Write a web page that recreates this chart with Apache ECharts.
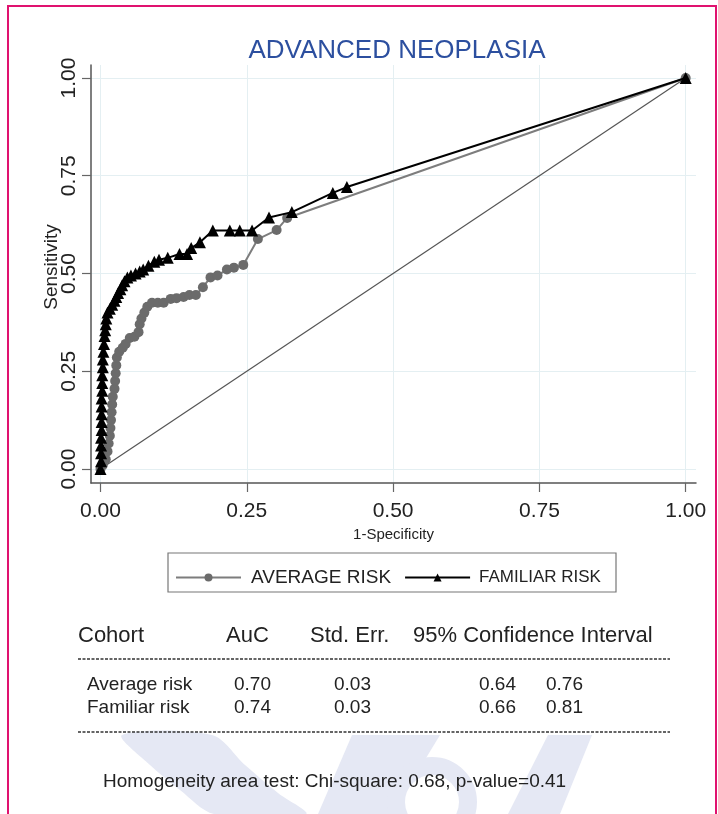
<!DOCTYPE html>
<html>
<head>
<meta charset="utf-8">
<script src="https://cdn.jsdelivr.net/npm/echarts@6/dist/echarts.min.js"></script>
<style>
  html, body { margin: 0; padding: 0; background: #fff; }
  #chart { width: 718px; height: 814px; }
</style>
</head>
<body>
<div id="chart"></div>
<script>
// ROC curves
const tickValues = [0, 0.25, 0.5, 0.75, 1];

const avgX = [0, 0.004, 0.009, 0.012, 0.014, 0.016, 0.017, 0.018, 0.019, 0.020,
  0.021, 0.024, 0.025, 0.026, 0.027, 0.028, 0.032, 0.038, 0.043, 0.050,
  0.058, 0.065, 0.067, 0.070, 0.075, 0.080, 0.088, 0.098, 0.108, 0.120,
  0.130, 0.142, 0.152, 0.163, 0.175, 0.188, 0.200, 0.216, 0.228, 0.244,
  0.269, 0.301, 0.319, 1.0];
const avgY = [0, 0.010, 0.025, 0.045, 0.065, 0.085, 0.105, 0.125, 0.145, 0.165,
  0.185, 0.205, 0.225, 0.245, 0.265, 0.285, 0.300, 0.310, 0.320, 0.335,
  0.338, 0.350, 0.370, 0.385, 0.400, 0.415, 0.425, 0.425, 0.425, 0.435,
  0.437, 0.440, 0.445, 0.445, 0.465, 0.490, 0.495, 0.510, 0.515, 0.522,
  0.588, 0.611, 0.642, 1.0];

const famX = [0, 0.001, 0.001, 0.001, 0.001, 0.002, 0.002, 0.002, 0.002, 0.002,
  0.003, 0.003, 0.003, 0.004, 0.004, 0.005, 0.006, 0.007, 0.008, 0.009,
  0.010, 0.012, 0.016, 0.020, 0.024, 0.027, 0.030, 0.034, 0.037, 0.041,
  0.046, 0.052, 0.060, 0.067, 0.073, 0.082, 0.092, 0.100, 0.115, 0.135,
  0.148, 0.155, 0.170, 0.192, 0.221, 0.238, 0.259, 0.288, 0.327, 0.397,
  0.421, 1.0];
const famY = [0, 0.02, 0.04, 0.06, 0.08, 0.10, 0.12, 0.14, 0.16, 0.18,
  0.20, 0.22, 0.24, 0.26, 0.28, 0.30, 0.32, 0.34, 0.355, 0.37,
  0.385, 0.40, 0.41, 0.42, 0.43, 0.44, 0.45, 0.46, 0.47, 0.48,
  0.49, 0.495, 0.50, 0.505, 0.51, 0.52, 0.53, 0.535, 0.54, 0.55,
  0.55, 0.565, 0.58, 0.61, 0.61, 0.61, 0.61, 0.643, 0.657, 0.706,
  0.721, 1.0];

const seriesNames = ['AVERAGE RISK', 'FAMILIAR RISK'];

// table under the chart
const tableHeader = ['Cohort', 'AuC', 'Std. Err.', '95% Confidence Interval'];
const cohorts = ['Average risk', 'Familiar risk'];
const aucValues = ['0.70', '0.74'];
const stdErrValues = ['0.03', '0.03'];
const ciLow = ['0.64', '0.66'];
const ciHigh = ['0.76', '0.81'];
const footNote = 'Homogeneity area test: Chi-square: 0.68, p-value=0.41';

const FONT = '"Liberation Sans", Arial, sans-serif';
const TEXT = '#222';

const zip = (xs, ys) => xs.map((x, i) => [x, ys[i]]);

const chart = echarts.init(document.getElementById('chart'));

const graphics = [];

// watermark (faint logo behind the table)
const wm = '#e5e8f4';
graphics.push(
  { type: 'polygon', z: -10, shape: { smooth: 0.3, points: [[122, 735], [212, 735], [245, 765], [278, 793], [306, 814], [214, 814], [180, 790], [150, 765]] }, style: { fill: wm } },
  { type: 'polygon', z: -10, shape: { points: [[352, 735], [440, 735], [392, 814], [318, 814]] }, style: { fill: wm } },
  { type: 'circle', z: -10, shape: { cx: 432, cy: 802, r: 36 }, style: { fill: 'none', stroke: wm, lineWidth: 18 } },
  { type: 'polygon', z: -10, shape: { points: [[548, 735], [592, 735], [560, 814], [508, 814]] }, style: { fill: wm } }
);

// magenta frame
graphics.push({ type: 'rect', shape: { x: 8, y: 6, width: 708, height: 820 }, style: { fill: 'none', stroke: '#e0126f', lineWidth: 2 } });

// legend frame
graphics.push({ type: 'rect', shape: { x: 168, y: 553, width: 448, height: 39 }, style: { fill: 'none', stroke: '#777', lineWidth: 1.2 } });

// table
const hx = [78, 226, 310, 413];
tableHeader.forEach((t, i) => {
  graphics.push({ type: 'text', x: hx[i], y: 636, style: { text: t, font: '22px ' + FONT, fill: TEXT, textVerticalAlign: 'middle' } });
});
[659, 732].forEach(y => {
  graphics.push({ type: 'line', shape: { x1: 78, y1: y, x2: 670, y2: y }, style: { stroke: '#333', lineWidth: 1.6, lineDash: [3, 1.5] } });
});
const rowY = [685, 708];
cohorts.forEach((c, i) => {
  const y = rowY[i];
  const cells = [[c, 87], [aucValues[i], 234], [stdErrValues[i], 334], [ciLow[i], 479], [ciHigh[i], 546]];
  cells.forEach(([t, x]) => {
    graphics.push({ type: 'text', x: x, y: y, style: { text: t, font: '19px ' + FONT, fill: TEXT, textVerticalAlign: 'middle' } });
  });
});
graphics.push({ type: 'text', x: 103, y: 782, style: { text: footNote, font: '19px ' + FONT, fill: TEXT, textVerticalAlign: 'middle' } });

// y axis title
graphics.push({ type: 'text', x: 52, y: 267, rotation: Math.PI / 2, style: { text: 'Sensitivity', font: '19px ' + FONT, fill: TEXT, textAlign: 'center', textVerticalAlign: 'middle' } });

const axisCommon = {
  type: 'value',
  axisLine: { show: true, onZero: false, lineStyle: { color: '#555', width: 1.5 } },
  axisTick: { show: true, customValues: tickValues, length: 9, lineStyle: { color: '#666', width: 1.2 } },
  splitLine: { show: true, lineStyle: { color: '#e4eff2', width: 1 } },
};

const option = {
  backgroundColor: '#fff',
  animation: false,
  title: {
    text: 'ADVANCED NEOPLASIA',
    left: 392,
    top: 33,
    textAlign: 'center',
    textStyle: { fontFamily: FONT, fontSize: 26, fontWeight: 'normal', color: '#2c4f9f' }
  },
  grid: { left: 91, right: 22, top: 65, bottom: 331, containLabel: false },
  legend: {
    left: 175,
    top: 568,
    itemWidth: 65,
    itemHeight: 10,
    itemGap: 13,
    padding: 0,
    textStyle: { fontFamily: FONT, color: TEXT },
    data: [
      { name: seriesNames[0], textStyle: { fontSize: 19, padding: [0, 0, 0, 5] } },
      { name: seriesNames[1], textStyle: { fontSize: 17, padding: [12, 0, 0, 4] } }
    ]
  },
  xAxis: Object.assign({}, axisCommon, {
    min: -0.0162,
    max: 1.0176,
    name: '1-Specificity',
    nameLocation: 'middle',
    nameGap: 43,
    nameTextStyle: { fontFamily: FONT, fontSize: 15, color: TEXT },
    axisLabel: { customValues: tickValues, formatter: v => v.toFixed(2), fontFamily: FONT, fontSize: 21, color: TEXT, margin: 18 }
  }),
  yAxis: Object.assign({}, axisCommon, {
    min: -0.0358,
    max: 1.0332,
    axisLabel: { customValues: tickValues, formatter: v => v.toFixed(2), rotate: 90, fontFamily: FONT, fontSize: 21, color: TEXT, margin: 11 }
  }),
  series: [
    {
      name: 'reference',
      type: 'line',
      data: [[0, 0], [1, 1]],
      symbol: 'none',
      silent: true,
      lineStyle: { color: '#555', width: 1.2 },
      z: 1
    },
    {
      name: seriesNames[0],
      type: 'line',
      data: zip(avgX, avgY),
      symbol: 'circle',
      symbolSize: 10,
      itemStyle: { color: '#6b6b6b' },
      lineStyle: { color: '#7d7d7d', width: 2 },
      z: 2
    },
    {
      name: seriesNames[1],
      type: 'line',
      data: zip(famX, famY),
      symbol: 'triangle',
      symbolSize: 12,
      itemStyle: { color: '#000' },
      lineStyle: { color: '#000', width: 2 },
      z: 3
    }
  ],
  graphic: graphics
};

chart.setOption(option);
</script>
</body>
</html>
